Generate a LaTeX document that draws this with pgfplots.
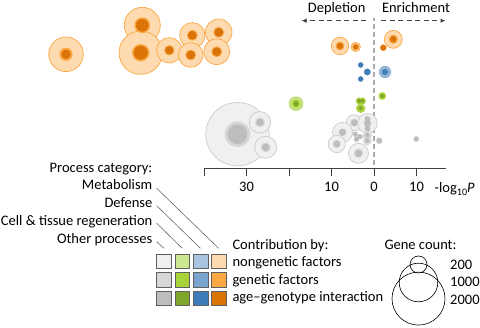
\documentclass[border=0pt]{standalone}
\usepackage{pgfplots}
\pgfplotsset{compat=1.18}
\usepackage{pgfplotstable}
\usepackage{fontspec}
\setmainfont{Carlito}
\usetikzlibrary{arrows.meta}

\definecolor{gL}{HTML}{F0F0F0}
\definecolor{gM}{HTML}{D6D6D6}
\definecolor{gD}{HTML}{BDBDBD}
\definecolor{gE}{HTML}{CCCCCC}
\definecolor{vL}{HTML}{CDE690}
\definecolor{vM}{HTML}{A8D23A}
\definecolor{vD}{HTML}{7FA62A}
\definecolor{bL}{HTML}{A8C4E1}
\definecolor{bM}{HTML}{7BA6D0}
\definecolor{bD}{HTML}{3F7BB8}
\definecolor{oL}{HTML}{FDDAB0}
\definecolor{oM}{HTML}{FBA843}
\definecolor{oD}{HTML}{DA7408}
\definecolor{axc}{HTML}{404040}
\definecolor{sqb}{HTML}{606060}

% columns: x = signed -log10 P (depletion < 0), y = vertical slot, a/b/c = radii (pt) of
% nongenetic / genetic / age-genotype interaction circles
\pgfplotstableread{
x y a b c
-32.12 193.8 31.7 12.5 9.5
-26.82 205.7 10.7 4.5 3.3
-25.48 180.7 11 4.5 3.3
-4.64 205.3 8 3.5 3
-1.53 204.7 9.8 3.5 3
-7.41 195.7 10 3.5 3
-8.75 184 8.7 3.5 3
-3.65 174.7 10 4.2 3.3
-1.58 193 4.3 2.5 2
-1.58 187.3 4 2.5 2
-4.4 193.7 2.2 2.2 2
-4.12 188.7 2.2 2.2 2
-3.29 191.3 2.2 2.2 2
-1.53 209 2.5 2.5 2.2
-1.53 199.5 2.5 2.5 2.2
1.25 187.3 2.7 2.7 2.3
9.95 189 2.3 2.3 2
}\graydata
\pgfplotstableread{
x y a b c
-18.35 224.3 6.7 4 2
1.95 232 3.3 3.3 1.8
-3.46 227 3 3 1.8
-2.75 227 3 3 1.8
-3.13 219.7 4.3 3.2 1.8
}\greendata
\pgfplotstableread{
x y a b c
-3.13 263 2.3 2.3 2.0
-1.58 256 3 3 2.6
-3.13 249 2.3 2.3 2.0
2.59 256 5.7 3.7 2.3
}\bluedata
\pgfplotstableread{
x y a b c
-72.47 273.7 17.3 6.2 4.3
-54.52 302.7 18 7.5 6
-54.89 275.3 21.7 8.3 6.7
-48.16 277.7 12.7 4.8 3.7
-42.75 292.7 12.7 5 4
-43.13 273 12.3 5 4
-36.54 295.7 13.3 5 4
-37.01 276.3 13 5 4
-8.0 282 8.7 4 2.8
-4.31 281 4.7 3 2.2
4.54 288.7 9 4.2 2.8
2.19 280.3 2.8 2.8 2.5
}\orangedata

\pgfplotsset{
  bub/.style n args={3}{only marks, scatter, mark=*,
    scatter/use mapped color={draw=#2, fill=#3},
    visualization depends on={\thisrow{#1}\as\rad},
    scatter/@pre marker code/.append style={/tikz/mark size=\rad pt},
    mark options={line width=0.7pt}},
}

\newcommand{\fs}{\fontsize{14.5}{17}\selectfont}

\begin{document}
\begin{tikzpicture}[font=\fs]
\useasboundingbox (0,0) rectangle (480pt,328pt);
\begin{axis}[
  at={(204pt,160pt)}, anchor=south west,
  scale only axis, x=4.25pt, y=1pt,
  xmin=-40, xmax=17, ymin=160, ymax=328,
  clip=false,
  axis x line*=bottom, axis y line=none,
  x axis line style={draw=axc, line width=0.8pt},
  xtick={-40,-30,-20,-10,0,10},
  xticklabels={,30,,10,0,10},
  tick align=outside, major tick length=8pt,
  tick style={draw=axc, line width=0.8pt},
  xticklabel style={font=\fs, text=black, yshift=-2.5pt},
  /pgf/number format/assume math mode=true,
]
\addplot[draw=gray!65, line width=1.6pt, dash pattern=on 5pt off 3pt, mark=none]
  coordinates {(0,163) (0,310)};
% gray
\addplot[bub={a}{gE}{gL}] table {\graydata};
\addplot[bub={b}{gM}{gM}] table {\graydata};
\addplot[bub={c}{gD}{gD}] table {\graydata};
% green
\addplot[bub={a}{vM}{vL}] table {\greendata};
\addplot[bub={b}{vM}{vM}] table {\greendata};
\addplot[bub={c}{vD}{vD}] table {\greendata};
% blue
\addplot[bub={a}{bM}{bL}] table {\bluedata};
\addplot[bub={b}{bM}{bM}] table {\bluedata};
\addplot[bub={c}{bD}{bD}] table {\bluedata};
% orange
\addplot[bub={a}{oM}{oL}] table {\orangedata};
\addplot[bub={b}{oM}{oM}] table {\orangedata};
\addplot[bub={c}{oD}{oD}] table {\orangedata};
\end{axis}

\begin{scope}[shift={(0,328pt)}, x=1pt, y=-1pt]
  % top annotations
  \node[anchor=base] at (336.7,12.7) {Depletion};
  \node[anchor=base] at (416,12.7) {Enrichment};
  \draw[axc, line width=1.1pt, dash pattern=on 5pt off 3.5pt, -{Latex[length=5pt,width=4.5pt]}] (366,20.7) -- (301.5,20.7);
  \draw[axc, line width=1.1pt, dash pattern=on 5pt off 3.5pt, -{Latex[length=5pt,width=4.5pt]}] (381,20.7) -- (445.5,20.7);
  % axis label
  \node[anchor=base west, inner sep=0pt] at (434.5,192.7) {-log\raisebox{-0.22em}{\fontsize{10}{12}\selectfont 10}\textit{P}};
  % process category
  \node[anchor=base east, inner sep=0pt] at (152.5,172.3) {Process category:};
  \node[anchor=base east, inner sep=0pt] at (152.5,190) {Metabolism};
  \node[anchor=base east, inner sep=0pt] at (152.5,207.7) {Defense};
  \node[anchor=base east, inner sep=0pt] at (152.5,225.4) {Cell \& tissue regeneration};
  \node[anchor=base east, inner sep=0pt] at (152.5,243.2) {Other processes};
  \draw[gray!80!black, line width=0.6pt] (156.7,188.3) -- (218.6,248.3);
  \draw[gray!80!black, line width=0.6pt] (156.7,205.7) -- (200.4,248.3);
  \draw[gray!80!black, line width=0.6pt] (156.7,223.3) -- (182.2,248.3);
  \draw[gray!80!black, line width=0.6pt] (156.7,241.7) -- (164,248.3);
  % squares
  \foreach \cx/\l/\m/\d in {164/gL/gM/gD, 182.3/vL/vM/vD, 200.6/bL/bM/bD, 218.9/oL/oM/oD}{
    \filldraw[fill=\l, draw=sqb, line width=0.8pt] (\cx-7.3,261.5-7.3) rectangle (\cx+7.3,261.5+7.3);
    \filldraw[fill=\m, draw=sqb, line width=0.8pt] (\cx-7.3,280-7.3) rectangle (\cx+7.3,280+7.3);
    \filldraw[fill=\d, draw=sqb, line width=0.8pt] (\cx-7.3,298.3-7.3) rectangle (\cx+7.3,298.3+7.3);
  }
  % contribution
  \node[anchor=base west, inner sep=0pt] at (232.3,249.3) {Contribution by:};
  \node[anchor=base west, inner sep=0pt] at (232.3,266.5) {nongenetic factors};
  \node[anchor=base west, inner sep=0pt] at (232.3,284.2) {genetic factors};
  \node[anchor=base west, inner sep=0pt] at (232.3,302) {age--genotype interaction};
  % gene count
  \node[anchor=base west, inner sep=0pt] at (384.3,249.3) {Gene count:};
  \draw[black, line width=0.6pt] (418.5,264.5) circle (8.5);
  \draw[black, line width=0.6pt] (418.5,282.5) circle (19.3);
  \draw[black, line width=0.6pt] (418.5,298.6) circle (26.5);
  \node[anchor=base west, inner sep=0pt] at (450,269.3) {200};
  \node[anchor=base west, inner sep=0pt] at (450,286.8) {1000};
  \node[anchor=base west, inner sep=0pt] at (450,305) {2000};
\end{scope}
\end{tikzpicture}
\end{document}
